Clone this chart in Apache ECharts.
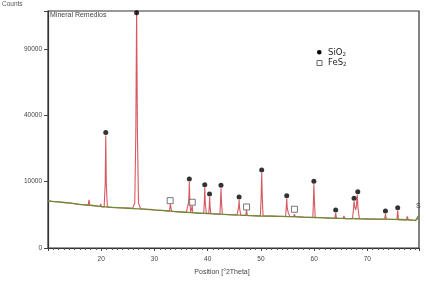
<!DOCTYPE html>
<html>
<head>
<meta charset="utf-8">
<script src="https://cdn.jsdelivr.net/npm/echarts@6/dist/echarts.min.js"></script>
<style>html,body{margin:0;padding:0;background:#fff}#c{width:426px;height:284px}</style>
</head>
<body>
<div id="c"></div>
<script>
// X-ray diffraction pattern (counts shown on a square-root axis)
var xTicks = [20, 30, 40, 50, 60, 70];
var yTickCounts = [0, 10000, 40000, 90000];

// measured pattern: position [°2Theta] and counts
var pattern2Theta = [10,11,12,13,14,15,16,17,17.55,17.7,17.85,18.5,19.2,19.75,19.9,20.05,
  20.55,20.75,20.85,20.95,21.15,22,23,24,25,25.9,26.3,26.5,26.65,26.8,27.0,27.4,27.6,27.8,
  28.5,29.3,30,31,31.8,32,32.2,32.8,33,33.2,34,35,36,36.35,36.45,36.55,36.65,36.8,37.0,37.1,37.2,
  38,39.25,39.38,39.45,39.55,39.75,40.2,40.3,40.37,40.45,40.6,41.5,42.3,42.42,42.5,42.6,42.75,
  44,45.5,45.7,45.82,45.9,46.0,46.2,47.15,47.3,47.45,48.5,49.9,50.05,50.15,50.25,50.4,
  52,54.65,54.78,54.85,54.95,55.15,55.3,55.45,56.15,56.3,56.45,58,59.75,59.87,59.95,60.05,60.2,
  61.5,63,63.9,64.05,64.2,65.4,65.6,65.8,67.2,67.4,67.5,67.65,67.8,67.95,68.1,68.25,68.5,
  70,71.5,73.25,73.4,73.55,75.55,75.7,75.85,77.3,77.5,77.7,79,79.7];
var patternCounts = [5021,4920,4809,4700,4603,4450,4301,4220,4170,5240,4160,4080,3990,3910,4400,3890,
  3840,9500,28770,9500,3800,3747,3690,3637,3600,3560,4600,30000,130000,30000,4600,3470,3700,3460,
  3420,3380,3282,3200,3140,3300,3130,3090,4400,3070,3010,2946,2900,2870,5000,9900,5000,2860,2840,4010,2830,
  2780,2740,5000,8320,4500,2720,2700,4000,5910,3800,2690,2640,2600,4800,8100,4800,2590,
  2520,2460,2455,3800,5240,3600,2440,2410,3282,2400,2380,2330,6000,12790,6000,2320,
  2300,2260,4000,5525,3600,2800,3000,2250,2220,2600,2210,2160,2120,5000,9225,5000,2110,
  2080,2030,2010,2784,2000,1970,2327,1960,1945,3500,4957,3800,3300,4000,6457,3500,1935,
  1911,1890,1875,2627,1870,1840,3162,1830,1790,2255,1780,1719,2475];

// fitted background
var background2Theta = [10,12,14,16,18,20,22,24,26,28,30,32,34,36,38,40,42,44,46,48,50,52,54,56,58,60,62,64,66,68,70,72,74,76,78,79,79.7];
var backgroundCounts = [5021,4809,4603,4301,4144,3877,3747,3637,3530,3421,3282,3180,3010,2900,2780,2700,2610,2520,2440,2380,2327,2300,2265,2220,2160,2114,2060,2010,1965,1938,1911,1895,1880,1845,1790,1719,2475];

// phase markers
var sio2Theta = [20.85,26.65,36.55,39.45,40.35,42.5,45.9,50.15,54.85,59.95,64.05,67.5,68.2,73.4,75.7];
var sio2Counts = [30210,125500,10820,9107,6628,8935,5912,13830,6217,10110,3282,5614,7204,3112,3691];
var fes2Theta = [32.95,37.1,47.3,56.3];
var fes2Counts = [5085,4747,3821,3404];

function pairs(xs, ys){ return xs.map(function(x,i){ return [x, Math.sqrt(ys[i])]; }); }

var chart = echarts.init(document.getElementById('c'), null, {renderer:'canvas'});
var fontNarrow = "'Liberation Sans Narrow','Liberation Sans',Arial,sans-serif";
chart.setOption({
  animation:false,
  backgroundColor:'#fff',
  grid:{left:48, right:7, top:11, bottom:36, show:true, borderColor:'#333', borderWidth:1.2, containLabel:false},
  xAxis:{
    type:'value', min:10, max:79.7, interval:10,
    axisLine:{show:true, onZero:false, lineStyle:{color:'#333', width:1.2}},
    axisTick:{show:true, inside:false, length:3, lineStyle:{color:'#444'}},
    minorTick:{show:true, splitNumber:10, length:2, lineStyle:{color:'#555'}},
    splitLine:{show:false},
    axisLabel:{fontSize:6.5, color:'#444', fontFamily:fontNarrow, margin:8,
      formatter:function(v){ return xTicks.indexOf(v) >= 0 ? String(v) : ''; }}
  },
  yAxis:{
    type:'value', min:0, max:357, interval:100,
    axisLine:{show:true, onZero:false, lineStyle:{color:'#333', width:1.2}},
    axisTick:{show:true, inside:false, length:4, lineStyle:{color:'#444'}},
    splitLine:{show:false},
    axisLabel:{fontSize:6.5, color:'#444', fontFamily:fontNarrow, margin:6,
      formatter:function(v){ var c = Math.round(v*v); return yTickCounts.indexOf(c) >= 0 ? String(c) : ''; }}
  },
  series:[
    {type:'line', data:pairs(pattern2Theta, patternCounts), symbol:'none', clip:true,
      lineStyle:{color:'#d7585e', width:1.1}, z:2},
    {type:'line', data:pairs(background2Theta, backgroundCounts), symbol:'none', smooth:0.3, clip:true,
      lineStyle:{color:'#6f8a3a', width:1.3}, z:3},
    {type:'scatter', name:'SiO2', data:pairs(sio2Theta, sio2Counts), symbol:'circle', symbolSize:5,
      itemStyle:{color:'#000'}, z:5, clip:false},
    {type:'scatter', name:'FeS2', data:pairs(fes2Theta, fes2Counts), symbol:'rect', symbolSize:6,
      itemStyle:{color:'#fff', borderColor:'#444', borderWidth:0.9}, z:5, clip:false}
  ],
  graphic:[
    {type:'text', left:2, top:1, style:{text:'Counts', fontSize:6.5, fill:'#555', fontFamily:fontNarrow}},
    {type:'text', left:50, top:12, style:{text:'Mineral Remedios', fontSize:7, fill:'#444', fontFamily:fontNarrow}},
    {type:'text', x:222, y:272, style:{text:'Position [°2Theta]', fontSize:7, fill:'#444', fontFamily:fontNarrow, align:'center', verticalAlign:'middle'}},
    {type:'text', x:416, y:206, style:{text:'S', fontSize:7, fill:'#444', fontFamily:fontNarrow, verticalAlign:'middle'}},
    {type:'circle', shape:{cx:319.3, cy:52.3, r:2.3}, style:{fill:'#000'}},
    {type:'rect', shape:{x:317, y:60.5, width:5, height:5}, style:{fill:'#fff', stroke:'#444', lineWidth:0.8}},
    {type:'text', x:328, y:52.5, style:{text:'{a|SiO}{b|2}', verticalAlign:'middle', fill:'#222',
      rich:{a:{fontSize:8.5, fontFamily:"'DejaVu Sans',sans-serif", fill:'#222'}, b:{fontSize:5.5, fontFamily:"'DejaVu Sans',sans-serif", fill:'#222', padding:[4,0,0,0]}}}},
    {type:'text', x:328, y:63, style:{text:'{a|FeS}{b|2}', verticalAlign:'middle', fill:'#222',
      rich:{a:{fontSize:8.5, fontFamily:"'DejaVu Sans',sans-serif", fill:'#222'}, b:{fontSize:5.5, fontFamily:"'DejaVu Sans',sans-serif", fill:'#222', padding:[4,0,0,0]}}}}
  ]
});
</script>
</body>
</html>
